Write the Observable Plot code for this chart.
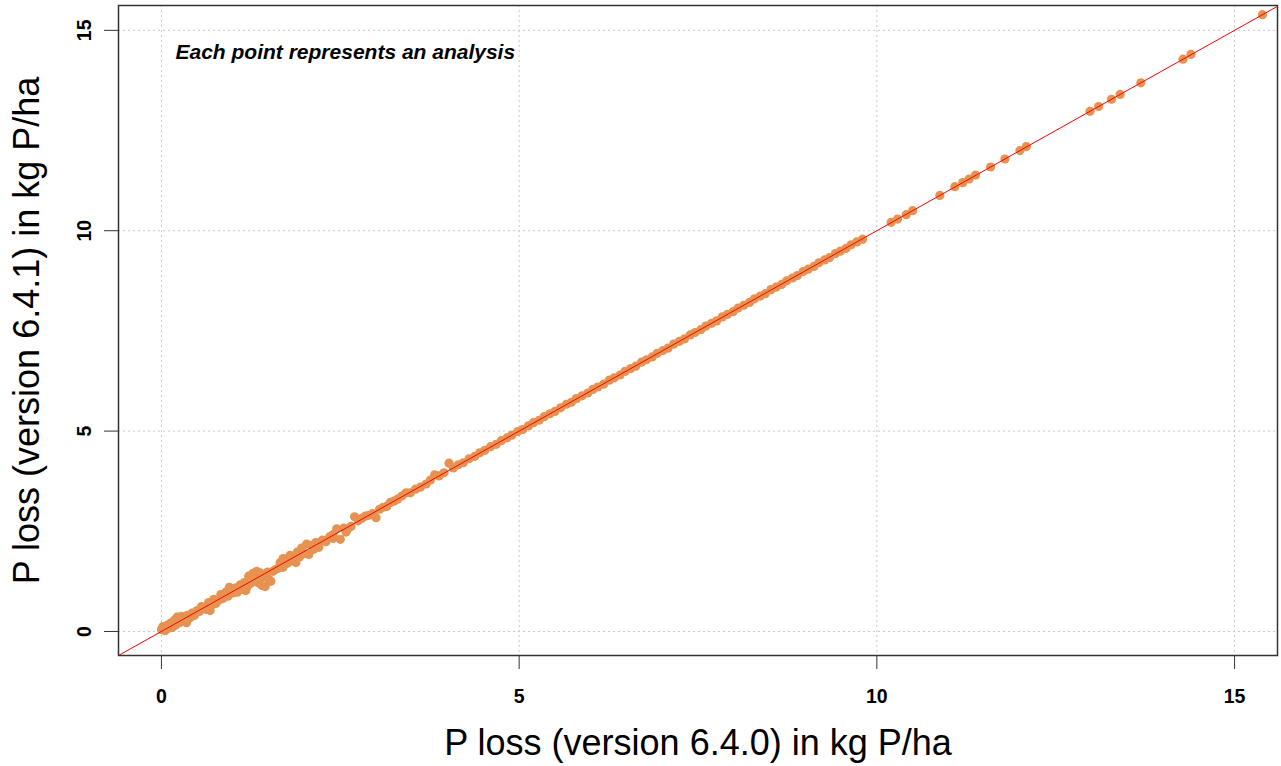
<!DOCTYPE html>
<html>
<head>
<meta charset="utf-8">
<script src="https://cdn.jsdelivr.net/npm/d3@7"></script>
<script src="https://cdn.jsdelivr.net/npm/@observablehq/plot@0.6"></script>
<style>
  html, body { margin: 0; padding: 0; background: #ffffff; }
  #chart svg { display: block; font-family: "Liberation Sans", Arial, sans-serif; color: #000; }
</style>
</head>
<body>
<div id="chart"></div>
<script>
// P loss per analysis, version 6.4.0 (x) vs version 6.4.1 (y), kg P/ha
const lossV640 = [
  0.00,0.02,0.05,0.08,0.10,0.12,0.15,0.18,0.20,0.22,0.25,0.28,0.30,0.33,0.36,0.40,0.43,0.46,0.50,
  0.53,0.56,0.60,0.63,0.66,0.70,0.73,0.76,0.80,0.83,0.86,0.90,0.93,0.96,1.00,
  1.03,1.06,1.10,1.13,1.16,1.20,1.22,1.25,1.28,1.30,1.33,1.35,1.38,1.40,1.42,1.45,1.48,1.50,1.53,1.56,1.60,
  1.63,1.66,1.70,1.73,1.76,1.80,1.83,1.86,1.90,1.93,1.96,2.00,2.03,2.06,2.10,2.13,2.16,2.20,
  2.25,2.30,2.35,2.40,2.45,2.50,2.55,2.60,2.65,2.70,2.75,2.80,2.85,2.90,2.95,3.00,
  3.05,3.10,3.15,3.20,3.25,3.30,3.36,3.42,3.48,3.55,3.62,3.70,3.76,3.82,3.88,3.95,4.02,4.08,
  4.15,4.22,4.30,4.38,4.45,4.52,4.60,4.68,4.75,4.83,4.90,4.98,5.05,5.13,5.20,5.28,5.35,5.43,5.50,5.58,
  5.66,5.73,5.80,5.88,5.96,6.03,6.10,6.18,6.26,6.33,6.41,6.48,6.56,6.63,6.71,6.78,6.86,6.93,7.01,7.08,
  7.16,7.24,7.31,7.39,7.46,7.54,7.61,7.69,7.76,7.84,7.91,7.99,8.06,8.14,8.22,8.29,8.37,8.44,8.52,8.59,
  8.67,8.74,8.82,8.89,8.97,9.04,9.12,9.19,9.27,9.34,9.42,9.49,9.57,9.64,9.72,9.80,
  10.20,10.29,10.41,10.50,10.88,11.09,11.20,11.29,11.38,11.59,11.79,12.00,12.09,12.98,13.10,13.28,13.40,13.69,14.28,14.39,15.39,
  0.35,0.68,0.95,1.18,1.70,1.88,2.40,2.58
];
const lossV641 = [
  0.05,0.12,0.02,0.15,0.08,0.20,0.10,0.28,0.16,0.36,0.22,0.38,0.26,0.30,0.40,0.34,0.46,0.40,0.52,
  0.50,0.62,0.58,0.55,0.72,0.66,0.80,0.70,0.78,0.92,0.82,0.98,0.88,1.04,0.96,
  1.08,0.98,1.16,1.05,1.22,1.12,1.38,1.20,1.45,1.30,1.50,1.22,1.46,1.15,1.36,1.12,1.48,1.30,1.25,1.50,1.55,
  1.58,1.72,1.60,1.80,1.70,1.90,1.76,1.82,1.98,1.86,2.08,1.94,2.18,1.92,2.15,2.05,2.22,2.10,
  2.28,2.24,2.36,2.42,2.56,2.30,2.58,2.55,2.62,2.86,2.76,2.82,2.88,2.90,2.94,2.84,
  3.05,3.10,3.12,3.22,3.25,3.30,3.38,3.46,3.46,3.55,3.60,3.68,3.78,3.91,3.88,3.96,4.20,4.08,
  4.16,4.21,4.31,4.37,4.46,4.52,4.61,4.67,4.76,4.83,4.90,4.99,5.04,5.13,5.21,5.27,5.36,5.43,5.49,5.58,
  5.67,5.72,5.81,5.88,5.95,6.04,6.10,6.17,6.27,6.33,6.40,6.49,6.56,6.62,6.72,6.78,6.85,6.94,7.01,7.07,
  7.17,7.24,7.30,7.40,7.46,7.53,7.62,7.69,7.75,7.85,7.91,7.98,8.07,8.14,8.21,8.30,8.37,8.43,8.53,8.59,
  8.66,8.75,8.82,8.88,8.98,9.04,9.11,9.20,9.27,9.33,9.43,9.49,9.56,9.65,9.72,9.79,
  10.21,10.29,10.40,10.50,10.88,11.10,11.20,11.29,11.39,11.59,11.79,12.00,12.10,12.98,13.10,13.28,13.40,13.69,14.28,14.40,15.39,
  0.22,0.52,1.10,1.02,1.82,1.72,2.32,2.48
];
const axisTicks = [0, 5, 10, 15];
const xDomain = [-0.6, 15.6];
const yDomain = [-0.6, 15.62];
const xTitle = "P loss (version 6.4.0) in kg P/ha";
const yTitle = "P loss (version 6.4.1) in kg P/ha";
const note = "Each point represents an analysis";

const points = lossV640.map((v, i) => ({old: v, new: lossV641[i]}));

const chart = Plot.plot({
  width: 1281,
  height: 766,
  marginLeft: 118,
  marginRight: 4,
  marginTop: 5,
  marginBottom: 111,
  style: {background: "#ffffff", fontFamily: "Liberation Sans, Arial, sans-serif"},
  x: {domain: xDomain},
  y: {domain: yDomain},
  marks: [
    Plot.gridX(axisTicks, {stroke: "#c8c8c8", strokeOpacity: 1, strokeDasharray: "2,3"}),
    Plot.gridY(axisTicks, {stroke: "#c8c8c8", strokeOpacity: 1, strokeDasharray: "2,3"}),
    Plot.dot(points, {x: "old", y: "new", r: 4.6, fill: "#E69250", stroke: null}),
    Plot.line(xDomain, {x: d => d, y: d => d, stroke: "#ff0000", strokeWidth: 1, clip: true}),
    Plot.frame({stroke: "#333", strokeWidth: 1.5}),
    Plot.axisX(axisTicks, {tickSize: 14, tickPadding: 20, fontSize: 19.5, fontWeight: "bold", label: null, stroke: "#333"}),
    Plot.axisY(axisTicks, {tickSize: 14, tickPadding: 14, tickRotate: -90, fontSize: 19.5, fontWeight: "bold", label: null, stroke: "#333"}),
    Plot.text([note], {frameAnchor: "top-left", dx: 57, dy: 53, textAnchor: "start", lineAnchor: "bottom", fontSize: 21, fontWeight: "bold", fontStyle: "italic", fill: "#000"}),
    Plot.text([xTitle], {frameAnchor: "bottom", dy: 99, textAnchor: "middle", lineAnchor: "bottom", fontSize: 36, fill: "#000"}),
    Plot.text([yTitle], {frameAnchor: "left", dx: -80, rotate: -90, textAnchor: "middle", lineAnchor: "bottom", fontSize: 36, fill: "#000"})
  ]
});
document.getElementById("chart").appendChild(chart);
</script>
</body>
</html>
